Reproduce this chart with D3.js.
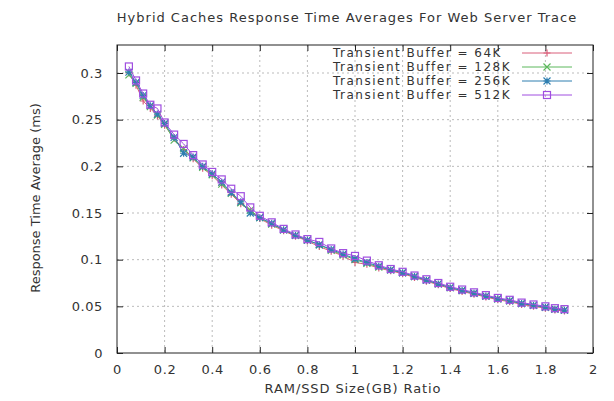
<!DOCTYPE html>
<html><head><meta charset="utf-8">
<script src="https://cdn.jsdelivr.net/npm/d3@7"></script>
<style>body{margin:0;background:#fff}svg text{font-family:"DejaVu Sans",sans-serif;fill:#333}</style>
</head><body><svg id="c" width="614" height="401"></svg>
<script>
const title = "Hybrid Caches Response Time Averages For Web Server Trace";
const xTitle = "RAM/SSD Size(GB) Ratio";
const yTitle = "Response Time Average (ms)";
const seriesNames = ["Transient Buffer = 64K","Transient Buffer = 128K","Transient Buffer = 256K","Transient Buffer = 512K"];
const xTicks = [0,0.2,0.4,0.6,0.8,1,1.2,1.4,1.6,1.8,2];
const yTicks = [0,0.05,0.1,0.15,0.2,0.25,0.3];
const xs = [0.05,0.08,0.11,0.14,0.17,0.20,0.24,0.28,0.32,0.36,0.40,0.44,0.48,0.52,0.56,0.60,0.65,0.70,0.75,0.80,0.85,0.90,0.95,1.00,1.05,1.10,1.15,1.20,1.25,1.30,1.35,1.40,1.45,1.50,1.55,1.60,1.65,1.70,1.75,1.80,1.84,1.88];
const y64  = [0.300,0.287,0.270,0.262,0.254,0.244,0.230,0.218,0.208,0.198,0.190,0.180,0.170,0.160,0.152,0.144,0.137,0.131,0.125,0.120,0.114,0.109,0.104,0.097,0.095,0.091,0.088,0.085,0.081,0.077,0.073,0.069,0.066,0.063,0.060,0.057,0.055,0.052,0.050,0.048,0.046,0.045];
const y128 = [0.298,0.289,0.274,0.264,0.255,0.245,0.228,0.219,0.209,0.199,0.191,0.181,0.171,0.161,0.153,0.145,0.138,0.132,0.126,0.121,0.116,0.110,0.105,0.100,0.096,0.092,0.089,0.086,0.082,0.078,0.074,0.070,0.067,0.064,0.061,0.058,0.056,0.053,0.051,0.049,0.047,0.046];
const y256 = [0.301,0.290,0.276,0.265,0.256,0.246,0.231,0.214,0.210,0.200,0.192,0.183,0.172,0.162,0.150,0.145,0.139,0.132,0.126,0.121,0.116,0.111,0.106,0.101,0.097,0.093,0.089,0.086,0.082,0.078,0.074,0.070,0.067,0.064,0.061,0.058,0.056,0.053,0.051,0.049,0.047,0.046];
const y512 = [0.307,0.292,0.278,0.266,0.262,0.247,0.234,0.224,0.212,0.202,0.194,0.186,0.176,0.168,0.156,0.147,0.140,0.133,0.127,0.122,0.119,0.112,0.107,0.104,0.099,0.094,0.090,0.087,0.083,0.079,0.075,0.071,0.068,0.065,0.062,0.059,0.057,0.054,0.052,0.050,0.048,0.047];
const colors = ["#d95f7a","#5cb85c","#2f7fb0","#a04ee0"];
const markers = ["plus","cross","star","square"];

const svg = d3.select("#c");
const m = {l:117, r:593, t:45, b:353};
const x = d3.scaleLinear().domain([0,2]).range([m.l,m.r]);
const y = d3.scaleLinear().domain([0,0.33]).range([m.b,m.t]);

// grid
const g = svg.append("g");
g.selectAll(".gx").data(xTicks.slice(1,-1)).enter().append("line")
 .attr("x1",d=>x(d)).attr("x2",d=>x(d)).attr("y1",m.t).attr("y2",m.b)
 .attr("stroke","#bbb").attr("stroke-dasharray","2,3").attr("stroke-width",1);
g.selectAll(".gy").data(yTicks.slice(1)).enter().append("line")
 .attr("y1",d=>y(d)).attr("y2",d=>y(d)).attr("x1",m.l).attr("x2",m.r)
 .attr("stroke","#bbb").attr("stroke-dasharray","2,3").attr("stroke-width",1);

// axes
const fmt = d=>String(d);
const ax = svg.append("g").attr("transform",`translate(0,${m.b})`)
 .call(d3.axisBottom(x).tickValues(xTicks).tickFormat(fmt).tickSizeInner(-6).tickSizeOuter(0).tickPadding(12));
const axT = svg.append("g").attr("transform",`translate(0,${m.t})`)
 .call(d3.axisTop(x).tickValues(xTicks).tickFormat("").tickSizeInner(-6).tickSizeOuter(0));
const ay = svg.append("g").attr("transform",`translate(${m.l},0)`)
 .call(d3.axisLeft(y).tickValues(yTicks).tickFormat(fmt).tickSizeInner(-6).tickSizeOuter(0).tickPadding(14));
const ayR = svg.append("g").attr("transform",`translate(${m.r},0)`)
 .call(d3.axisRight(y).tickValues(yTicks).tickFormat("").tickSizeInner(-6).tickSizeOuter(0));
[ax,axT,ay,ayR].forEach(a=>{a.select(".domain").remove();a.selectAll("line").attr("stroke","#222");a.selectAll("text").attr("font-size",13).attr("fill","#444").attr("letter-spacing",0.6).style("font-family","DejaVu Sans");});
svg.append("rect").attr("x",m.l).attr("y",m.t).attr("width",m.r-m.l).attr("height",m.b-m.t)
 .attr("fill","none").attr("stroke","#222").attr("stroke-width",1);

// series
const allY = [y64,y128,y256,y512];
const line = d3.line().x(d=>x(d[0])).y(d=>y(d[1]));
function drawMarker(sel,type,c){
  const s=3.5;
  if(type==="plus"){sel.append("path").attr("d",`M${-s},0H${s}M0,${-s}V${s}`);}
  else if(type==="cross"){sel.append("path").attr("d",`M${-s},${-s}L${s},${s}M${-s},${s}L${s},${-s}`);}
  else if(type==="star"){sel.append("path").attr("d",`M${-s},0H${s}M0,${-s}V${s}M${-s},${-s}L${s},${s}M${-s},${s}L${s},${-s}`);}
  else {sel.append("rect").attr("x",-s).attr("y",-s).attr("width",2*s).attr("height",2*s).attr("fill","none");}
  sel.selectAll("path,rect").attr("stroke",c).attr("stroke-width",1.2).attr("fill","none");
}
allY.forEach((ys,i)=>{
  const pts = xs.map((v,j)=>[v,ys[j]]);
  svg.append("path").datum(pts).attr("d",line).attr("fill","none").attr("stroke",colors[i]).attr("stroke-width",1);
  svg.append("g").selectAll("g").data(pts).enter().append("g")
   .attr("transform",d=>`translate(${x(d[0])},${y(d[1])})`)
   .each(function(){drawMarker(d3.select(this),markers[i],colors[i]);});
});

// legend
seriesNames.forEach((n,i)=>{
  const ly = 53 + i*14;
  svg.append("text").attr("x",333).attr("y",ly+4.3).attr("font-size",12).attr("letter-spacing",1.5).attr("fill","#333").text(n);
  svg.append("line").attr("x1",522).attr("x2",572).attr("y1",ly).attr("y2",ly).attr("stroke",colors[i]).attr("stroke-width",1);
  const mg = svg.append("g").attr("transform",`translate(547,${ly})`);
  drawMarker(mg,markers[i],colors[i]);
});

// titles
svg.append("text").attr("x",347).attr("y",22).attr("text-anchor","middle").attr("font-size",13).attr("letter-spacing",1).attr("fill","#333").text(title);
svg.append("text").attr("x",353).attr("y",393).attr("text-anchor","middle").attr("font-size",13).attr("letter-spacing",0.9).attr("fill","#444").text(xTitle);
svg.append("text").attr("transform","translate(40,198) rotate(-90)").attr("text-anchor","middle").attr("font-size",13).attr("fill","#444").text(yTitle);
</script></body></html>
